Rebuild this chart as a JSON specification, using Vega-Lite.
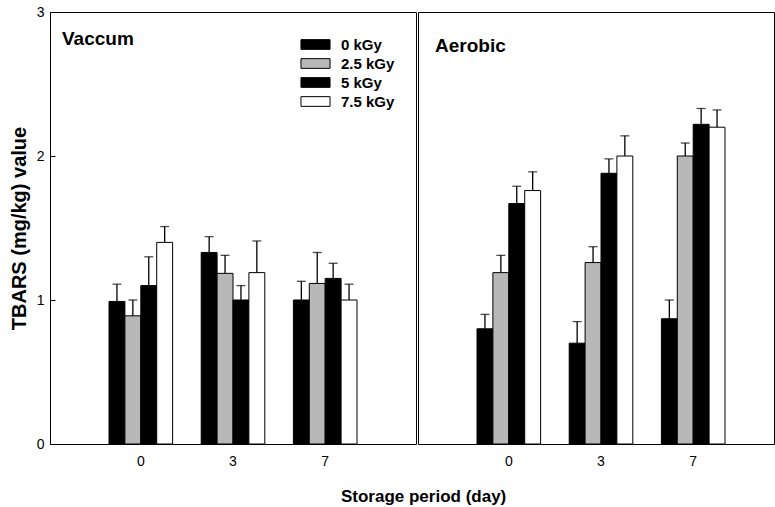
{
  "$schema": "https://vega.github.io/schema/vega-lite/v6.json",
  "padding": {"left": 8, "top": 4, "right": 0, "bottom": 0},
  "datasets": {
    "vac": [
      {"day": "0", "dose": "0 kGy", "value": 0.99, "hi": 1.11},
      {"day": "0", "dose": "2.5 kGy", "value": 0.89, "hi": 1.0},
      {"day": "0", "dose": "5 kGy", "value": 1.1, "hi": 1.3},
      {"day": "0", "dose": "7.5 kGy", "value": 1.4, "hi": 1.51},
      {"day": "3", "dose": "0 kGy", "value": 1.33, "hi": 1.44},
      {"day": "3", "dose": "2.5 kGy", "value": 1.185, "hi": 1.31},
      {"day": "3", "dose": "5 kGy", "value": 1.0, "hi": 1.1},
      {"day": "3", "dose": "7.5 kGy", "value": 1.19, "hi": 1.41},
      {"day": "7", "dose": "0 kGy", "value": 1.0, "hi": 1.13},
      {"day": "7", "dose": "2.5 kGy", "value": 1.115, "hi": 1.33},
      {"day": "7", "dose": "5 kGy", "value": 1.15, "hi": 1.255},
      {"day": "7", "dose": "7.5 kGy", "value": 1.0, "hi": 1.11}
    ],
    "aer": [
      {"day": "0", "dose": "0 kGy", "value": 0.8, "hi": 0.9},
      {"day": "0", "dose": "2.5 kGy", "value": 1.19, "hi": 1.31},
      {"day": "0", "dose": "5 kGy", "value": 1.67, "hi": 1.79},
      {"day": "0", "dose": "7.5 kGy", "value": 1.76, "hi": 1.89},
      {"day": "3", "dose": "0 kGy", "value": 0.7, "hi": 0.85},
      {"day": "3", "dose": "2.5 kGy", "value": 1.26, "hi": 1.37},
      {"day": "3", "dose": "5 kGy", "value": 1.88, "hi": 1.98},
      {"day": "3", "dose": "7.5 kGy", "value": 2.0, "hi": 2.14},
      {"day": "7", "dose": "0 kGy", "value": 0.87, "hi": 1.0},
      {"day": "7", "dose": "2.5 kGy", "value": 2.0, "hi": 2.09},
      {"day": "7", "dose": "5 kGy", "value": 2.22, "hi": 2.33},
      {"day": "7", "dose": "7.5 kGy", "value": 2.2, "hi": 2.32}
    ]
  },
  "config": {
    "font": "Liberation Sans",
    "view": {"stroke": "black", "strokeWidth": 1},
    "axis": {"labelColor": "black", "domainColor": "black", "tickColor": "black", "titleColor": "black", "grid": false, "labelFont": "Liberation Sans", "titleFont": "Liberation Sans"},
    "title": {"color": "black", "font": "Liberation Sans"}
  },
  "spacing": 0,
  "title": {"text": "Storage period (day)", "orient": "bottom", "anchor": "middle", "frame": "bounds", "fontSize": 17, "fontWeight": "bold", "offset": 20, "dx": 27},
  "hconcat": [
    {
      "width": 366,
      "height": 432,
      "data": {"name": "vac"},
      "title": {"text": "Vaccum", "anchor": "start", "frame": "group", "fontSize": 19, "fontWeight": "bold", "dx": 12, "dy": 48},
      "encoding": {
        "x": {"field": "day", "type": "ordinal", "sort": ["0", "3", "7"], "scale": {"paddingInner": 0.31, "paddingOuter": 0.64}, "axis": {"title": null, "labelAngle": 0, "ticks": false, "domain": false, "labelPadding": 10, "labelFontSize": 14}},
        "xOffset": {"field": "dose", "type": "nominal", "sort": ["0 kGy", "2.5 kGy", "5 kGy", "7.5 kGy"], "scale": {"paddingInner": 0, "paddingOuter": 0}}
      },
      "layer": [
        {
          "mark": {"type": "bar", "stroke": "black", "strokeWidth": 1},
          "encoding": {
            "y": {"field": "value", "type": "quantitative", "scale": {"domain": [0, 3], "nice": false}, "axis": {"title": "TBARS (mg/kg) value", "titleFontSize": 20, "titleFontWeight": "bold", "titlePadding": 7, "values": [0, 1, 2, 3], "format": "d", "labelFontSize": 14, "tickSize": -5, "labelPadding": 11}},
            "fill": {"field": "dose", "type": "nominal", "sort": ["0 kGy", "2.5 kGy", "5 kGy", "7.5 kGy"], "scale": {"domain": ["0 kGy", "2.5 kGy", "5 kGy", "7.5 kGy"], "range": ["#000000", "#b8b8b8", "#000000", "#ffffff"]}, "legend": {"orient": "none", "legendX": 255, "legendY": 22, "title": null, "symbolType": "M-1.5,-0.5H1.5V0.5H-1.5Z", "symbolSize": 376, "symbolStrokeColor": "black", "symbolStrokeWidth": 1, "labelFontSize": 15, "labelFontWeight": "bold", "labelColor": "black", "labelOffset": 15, "rowPadding": 0}}
          }
        },
        {
          "mark": {"type": "rule", "color": "black", "strokeWidth": 1.3},
          "encoding": {"y": {"field": "hi", "type": "quantitative"}, "y2": {"field": "value"}}
        },
        {
          "mark": {"type": "tick", "color": "black", "size": 9, "thickness": 1.3},
          "encoding": {"y": {"field": "hi", "type": "quantitative"}}
        }
      ]
    },
    {
      "width": 356,
      "height": 432,
      "data": {"name": "aer"},
      "title": {"text": "Aerobic", "anchor": "start", "frame": "group", "fontSize": 19, "fontWeight": "bold", "dx": 17, "dy": 48},
      "encoding": {
        "x": {"field": "day", "type": "ordinal", "sort": ["0", "3", "7"], "scale": {"paddingInner": 0.31, "paddingOuter": 0.64, "range": [0, 366]}, "axis": {"title": null, "labelAngle": 0, "ticks": false, "domain": false, "labelPadding": 10, "labelFontSize": 14}},
        "xOffset": {"field": "dose", "type": "nominal", "sort": ["0 kGy", "2.5 kGy", "5 kGy", "7.5 kGy"], "scale": {"paddingInner": 0, "paddingOuter": 0}}
      },
      "layer": [
        {
          "mark": {"type": "bar", "stroke": "black", "strokeWidth": 1},
          "encoding": {
            "y": {"field": "value", "type": "quantitative", "scale": {"domain": [0, 3], "nice": false}, "axis": null},
            "fill": {"field": "dose", "type": "nominal", "sort": ["0 kGy", "2.5 kGy", "5 kGy", "7.5 kGy"], "scale": {"domain": ["0 kGy", "2.5 kGy", "5 kGy", "7.5 kGy"], "range": ["#000000", "#b8b8b8", "#000000", "#ffffff"]}, "legend": null}
          }
        },
        {
          "mark": {"type": "rule", "color": "black", "strokeWidth": 1.3},
          "encoding": {"y": {"field": "hi", "type": "quantitative"}, "y2": {"field": "value"}}
        },
        {
          "mark": {"type": "tick", "color": "black", "size": 9, "thickness": 1.3},
          "encoding": {"y": {"field": "hi", "type": "quantitative"}}
        }
      ]
    }
  ]
}
